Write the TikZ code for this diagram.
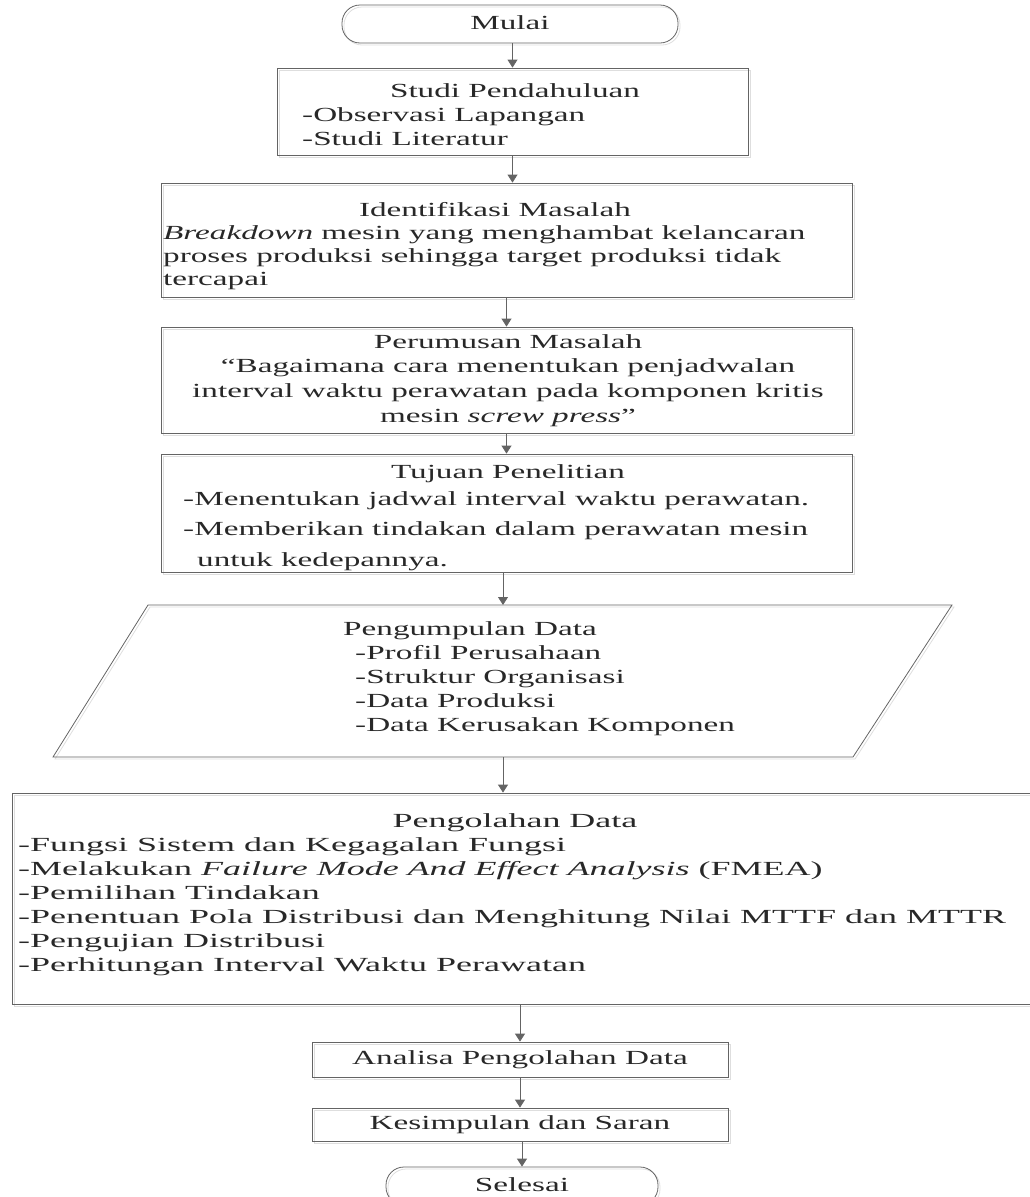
\documentclass[tikz,border=0pt]{standalone}
\usepackage{fontspec}
\setmainfont[FakeStretch=1.66]{Liberation Serif}
\newfontfamily\olahfont[FakeStretch=1.8]{Liberation Serif}
\usetikzlibrary{arrows.meta}
\definecolor{lin}{RGB}{100,100,100}
\definecolor{ink}{RGB}{40,40,40}
\definecolor{shd}{RGB}{222,222,222}
\begin{document}
\begin{tikzpicture}[x=1pt,y=-1pt,text=ink,font=\fontsize{20}{24}\selectfont,
    box/.style={draw=lin,line width=0.8pt,inner sep=0pt,text height=14pt,text depth=4pt,
        preaction={draw=shd,line width=0.8pt,transform canvas={shift={(2pt,-2pt)}}}},
    term/.style={box,rounded corners=18pt},
    ln/.style={anchor=base west,inner sep=0pt},
    mid/.style={anchor=base,inner sep=0pt},
    wide/.style={font=\olahfont\fontsize{20}{24}\selectfont},
    arr/.style={draw=lin,line width=0.8pt,-{Triangle[width=10pt,length=8pt]}}]
    \useasboundingbox (0,0) rectangle (1029,1197);
    \def\sk{24}
    %% start
    \node[term,minimum width=336pt,minimum height=38pt] (mulai) at (510,24) {Mulai};
    %% studi pendahuluan
    \node[box,minimum width=471pt,minimum height=87pt] (studi) at (512.5,111.5) {};
    \node[mid] (studi0) at (515,97) {Studi Pendahuluan};
    \foreach \t [count=\i] in {Observasi Lapangan,Studi Literatur}
        \node[ln] (studi\i) at (302,97+\sk*\i) {-\t};
    %% identifikasi masalah
    \node[box,minimum width=691pt,minimum height=114pt] (ident) at (506.5,240) {};
    \node[mid] (ident0) at (495,216) {Identifikasi Masalah};
    \foreach \t [count=\i] in {{\textit{Breakdown} mesin yang menghambat kelancaran},
        {proses produksi sehingga target produksi tidak},tercapai}
        \node[ln] (ident\i) at (163,216+23*\i) {\t};
    %% perumusan masalah
    \node[box,minimum width=691pt,minimum height=106pt] (perum) at (506.5,380) {};
    \foreach \t [count=\i from 0] in {Perumusan Masalah,
        {“Bagaimana cara menentukan penjadwalan},
        {interval waktu perawatan pada komponen kritis},
        {mesin \textit{screw press}”}}
        \node[mid] (perum\i) at (508,348+24.7*\i) {\t};
    %% tujuan penelitian
    \node[box,minimum width=691pt,minimum height=118pt] (tujuan) at (506.5,513) {};
    \node[mid] (tujuan0) at (508,478) {Tujuan Penelitian};
    \node[ln] (tujuan1) at (183,505) {-Menentukan jadwal interval waktu perawatan.};
    \node[ln] (tujuan2) at (183,535) {-Memberikan tindakan dalam perawatan mesin};
    \node[ln] (tujuan3) at (197,566) {untuk kedepannya.};
    %% pengumpulan data
    \draw[box] (148,605) -- (952,605) -- (853,757) -- (53,757) -- cycle;
    \coordinate (data-n) at (503,605);
    \coordinate (data-s) at (503,757);
    \node[ln] (data0) at (343,635) {Pengumpulan Data};
    \foreach \t [count=\i] in {Profil Perusahaan,Struktur Organisasi,Data Produksi,
        Data Kerusakan Komponen}
        \node[ln] (data\i) at (355,635+\sk*\i) {-\t};
    %% pengolahan data
    \node[box,minimum width=1028pt,minimum height=211pt] (olah) at (526,898.5) {};
    \node[mid,wide] (olah0) at (515,827) {Pengolahan Data};
    \foreach \t [count=\i] in {Fungsi Sistem dan Kegagalan Fungsi,
        {Melakukan \textit{Failure Mode And Effect Analysis} (FMEA)},
        Pemilihan Tindakan,
        Penentuan Pola Distribusi dan Menghitung Nilai MTTF dan MTTR,
        Pengujian Distribusi,Perhitungan Interval Waktu Perawatan}
        \node[ln,wide] (olah\i) at (18,827+\sk*\i) {-\t};
    %% end
    \node[box,minimum width=416pt,minimum height=35pt] (analisa) at (520,1059.5) {Analisa Pengolahan Data};
    \node[box,minimum width=416pt,minimum height=33pt] (simpul) at (520,1124.5) {Kesimpulan dan Saran};
    \node[term,minimum width=272pt,minimum height=38pt] (selesai) at (522,1186) {Selesai};
    %% arrows
    \draw[arr] (mulai.south -| studi.north) -- (studi.north);
    \draw[arr] (studi.south) -- (studi.south |- ident.north);
    \draw[arr] (ident.south) -- (perum.north);
    \draw[arr] (perum.south) -- (tujuan.north);
    \draw[arr] (tujuan.south -| data-n) -- (data-n);
    \draw[arr] (data-s) -- (data-s |- olah.north);
    \draw[arr] (analisa.north |- olah.south) -- (analisa.north);
    \draw[arr] (analisa.south) -- (simpul.north);
    \draw[arr] (simpul.south -| selesai.north) -- (selesai.north);
\end{tikzpicture}
\end{document}
